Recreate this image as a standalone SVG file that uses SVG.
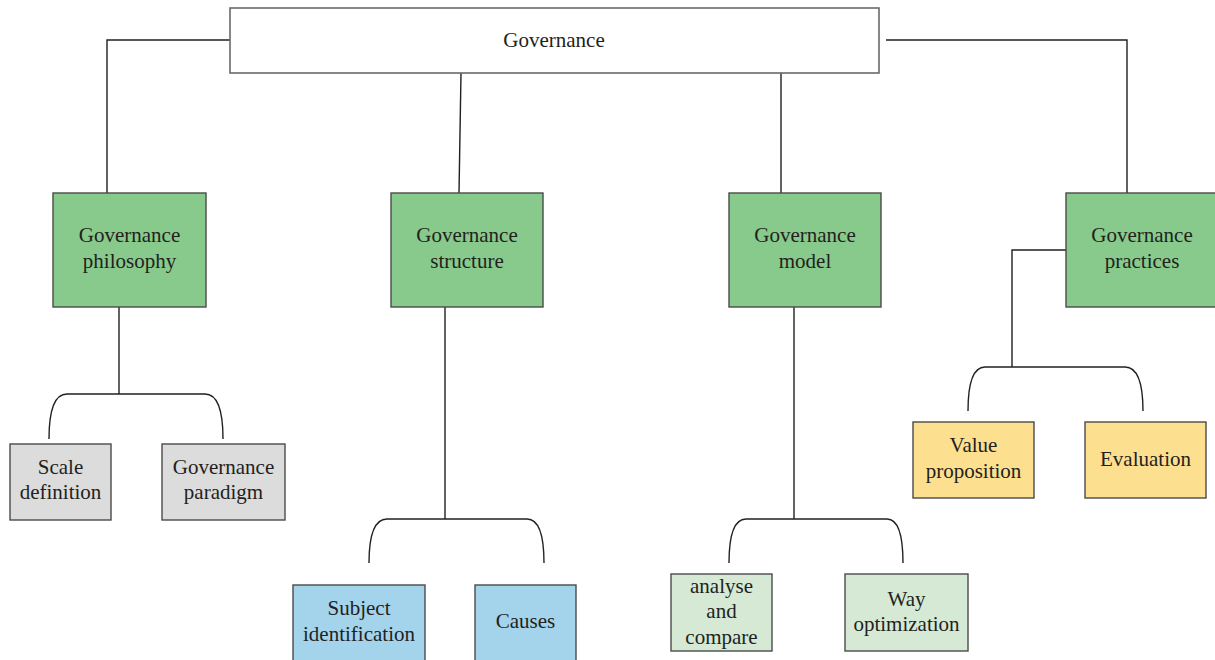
<svg xmlns="http://www.w3.org/2000/svg" width="1215" height="660" viewBox="0 0 1215 660">
  <style>
    .box { stroke: #4a4a4a; stroke-width: 1.4; }
    .root { fill: #ffffff; stroke: #6a6a6a; stroke-width: 1.6; }
    .lvl1 { fill: #88ca8b; }
    .gray { fill: #dcdcdd; }
    .blue { fill: #a4d3ec; }
    .pale { fill: #d5e9d5; }
    .amber { fill: #fddf90; }
    .lbl { font-family: "Liberation Serif", "Times New Roman", serif; font-size: 21px; fill: #231f20; text-anchor: middle; }
    .conn { fill: none; stroke: #231f20; stroke-width: 1.4; }
  </style>

  <!-- connectors -->
  <g id="connectors">
    <polyline class="conn" points="230,40 107,40 107,193"/>
    <polyline class="conn" points="886,40 1127,40 1127,193"/>
    <line class="conn" x1="461" y1="73" x2="459" y2="193"/>
    <line class="conn" x1="781" y1="73" x2="781" y2="193"/>

    <!-- philosophy branch -->
    <line class="conn" x1="119" y1="307" x2="119" y2="394"/>
    <path class="conn" d="M49,439 C49,410 55,394 67,394 L205,394 C217,394 223,410 223,439"/>

    <!-- structure branch -->
    <line class="conn" x1="445" y1="307" x2="445" y2="519"/>
    <path class="conn" d="M369,563 C369,534 375,519 387,519 L527,519 C539,519 544,534 544,563"/>

    <!-- model branch -->
    <line class="conn" x1="794" y1="307" x2="794" y2="519"/>
    <path class="conn" d="M729,563 C729,534 735,519 746,519 L887,519 C898,519 903,534 903,563"/>

    <!-- practices branch -->
    <polyline class="conn" points="1066,250 1012,250 1012,367"/>
    <path class="conn" d="M968,411 C968,382 974,367 985,367 L1125,367 C1137,367 1143,382 1143,411"/>
  </g>

  <g id="governance">
    <rect class="root" x="230" y="8" width="649" height="65"/>
    <text class="lbl" x="554" y="46.5">Governance</text>
  </g>

  <g id="philosophy">
    <rect class="box lvl1" x="53" y="193" width="153" height="114"/>
    <text class="lbl" x="129.5" y="242">Governance</text>
    <text class="lbl" x="129.5" y="268">philosophy</text>
  </g>
  <g id="structure">
    <rect class="box lvl1" x="391" y="193" width="152" height="114"/>
    <text class="lbl" x="467" y="242">Governance</text>
    <text class="lbl" x="467" y="268">structure</text>
  </g>
  <g id="model">
    <rect class="box lvl1" x="729" y="193" width="152" height="114"/>
    <text class="lbl" x="805" y="242">Governance</text>
    <text class="lbl" x="805" y="268">model</text>
  </g>
  <g id="practices">
    <rect class="box lvl1" x="1066" y="193" width="153" height="114"/>
    <text class="lbl" x="1142" y="242">Governance</text>
    <text class="lbl" x="1142" y="268">practices</text>
  </g>

  <g id="scale-definition">
    <rect class="box gray" x="10" y="444" width="101" height="76"/>
    <text class="lbl" x="60.5" y="473.5">Scale</text>
    <text class="lbl" x="60.5" y="499">definition</text>
  </g>
  <g id="governance-paradigm">
    <rect class="box gray" x="162" y="444" width="123" height="76"/>
    <text class="lbl" x="223.5" y="473.5">Governance</text>
    <text class="lbl" x="223.5" y="499">paradigm</text>
  </g>

  <g id="subject-identification">
    <rect class="box blue" x="293" y="585" width="132" height="80"/>
    <text class="lbl" x="359" y="615">Subject</text>
    <text class="lbl" x="359" y="640.5">identification</text>
  </g>
  <g id="causes">
    <rect class="box blue" x="475" y="585" width="101" height="80"/>
    <text class="lbl" x="525.5" y="628">Causes</text>
  </g>

  <g id="analyse-compare">
    <rect class="box pale" x="671" y="574" width="101" height="77"/>
    <text class="lbl" x="721.5" y="592.5">analyse</text>
    <text class="lbl" x="721.5" y="618">and</text>
    <text class="lbl" x="721.5" y="643.5">compare</text>
  </g>
  <g id="way-optimization">
    <rect class="box pale" x="845" y="574" width="123" height="77"/>
    <text class="lbl" x="906.5" y="606">Way</text>
    <text class="lbl" x="906.5" y="631">optimization</text>
  </g>

  <g id="value-proposition">
    <rect class="box amber" x="913" y="422" width="121" height="76"/>
    <text class="lbl" x="973.5" y="452">Value</text>
    <text class="lbl" x="973.5" y="478">proposition</text>
  </g>
  <g id="evaluation">
    <rect class="box amber" x="1085" y="422" width="121" height="76"/>
    <text class="lbl" x="1145.5" y="465.5">Evaluation</text>
  </g>
</svg>
